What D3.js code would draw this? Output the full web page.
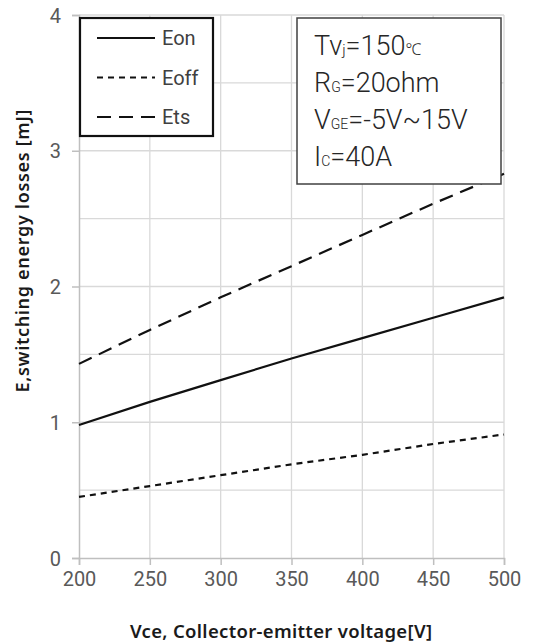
<!DOCTYPE html>
<html>
<head>
<meta charset="utf-8">
<script src="https://cdn.jsdelivr.net/npm/d3@7"></script>
<style>
  body { margin: 0; background: #fff; }
  svg { display: block; font-family: Roboto, "Noto Sans", sans-serif; }
</style>
</head>
<body>
<div class="chart-container"></div>
<script>
// values
var vce = [200, 250, 300, 350, 400, 450, 500];
var eon = [0.98, 1.15, 1.31, 1.47, 1.62, 1.77, 1.92];
var eoff = [0.45, 0.53, 0.61, 0.69, 0.76, 0.84, 0.91];
var ets = [1.43, 1.68, 1.92, 2.15, 2.38, 2.61, 2.83];
var xTicks = [200, 250, 300, 350, 400, 450, 500];
var yTicks = [0, 1, 2, 3, 4];
var yGrid = [0.5, 1, 1.5, 2, 2.5, 3, 3.5, 4];
var seriesNames = ["Eon", "Eoff", "Ets"];
var conditions = [
    [["Tv", 27], ["j", 15], ["=150", 27], ["℃", 16]],
    [["R", 27], ["G", 14], ["=20ohm", 27]],
    [["V", 27], ["GE", 14], ["=-5V~15V", 27]],
    [["I", 27], ["C", 14], ["=40A", 27]]
];

draw();

function draw() {
    var drawWidth = 533, drawHeight = 644;
    var margin = { top: 15, right: 29, bottom: 86, left: 79 };
    var width = drawWidth - margin.left - margin.right;
    var height = drawHeight - margin.top - margin.bottom;

    var svg = d3.select(".chart-container").append("svg")
        .attr("width", drawWidth)
        .attr("height", drawHeight);

    var g = svg.append("g")
        .attr("transform", "translate(" + margin.left + "," + margin.top + ")");

    var x = d3.scaleLinear().domain([200, 500]).range([0, width]);
    var y = d3.scaleLinear().domain([0, 4]).range([height, 0]);

    // grid
    g.selectAll(".vgrid").data(xTicks.slice(1)).enter().append("line")
        .attr("x1", d => x(d)).attr("x2", d => x(d))
        .attr("y1", 0).attr("y2", height)
        .attr("stroke", "#d9d9d9").attr("stroke-width", 1.3);
    g.selectAll(".hgrid").data(yGrid).enter().append("line")
        .attr("x1", 0).attr("x2", width)
        .attr("y1", d => y(d)).attr("y2", d => y(d))
        .attr("stroke", "#d9d9d9").attr("stroke-width", 1.3);

    // axes
    var xAxis = g.append("g")
        .attr("transform", "translate(0," + height + ")")
        .call(d3.axisBottom(x).tickValues(xTicks).tickSize(7).tickPadding(6));
    var yAxis = g.append("g")
        .call(d3.axisLeft(y).tickValues(yTicks).tickFormat(d3.format("d")).tickSize(7).tickPadding(11));
    [xAxis, yAxis].forEach(function (a) {
        a.select(".domain").attr("stroke", "#bfbfbf").attr("stroke-width", 1.5);
        a.selectAll(".tick line").attr("stroke", "#bfbfbf").attr("stroke-width", 1.5);
        a.selectAll(".tick text")
            .attr("fill", "#595959")
            .style("font-size", "20px")
            .style("font-family", "Roboto, sans-serif");
    });
    xAxis.selectAll(".tick text").attr("dy", "0.75em");
    yAxis.selectAll(".tick text").attr("dy", "0.35em");

    // lines
    var styles = [
        { data: eon, dash: null },
        { data: eoff, dash: "6,5" },
        { data: ets, dash: "14,8" }
    ];
    var line = d3.line()
        .x((d, i) => x(vce[i]))
        .y(d => y(d));
    styles.forEach(function (s) {
        g.append("path")
            .datum(s.data)
            .attr("d", line)
            .attr("fill", "none")
            .attr("stroke", "#111")
            .attr("stroke-width", 2.2)
            .attr("stroke-dasharray", s.dash);
    });

    // legend box
    var lg = svg.append("g").attr("transform", "translate(80,18)");
    lg.append("rect")
        .attr("width", 133).attr("height", 118)
        .attr("fill", "#fff").attr("stroke", "#111").attr("stroke-width", 2.2);
    seriesNames.forEach(function (name, i) {
        var yy = 20 + i * 39.5;
        lg.append("line")
            .attr("x1", 17).attr("x2", 75)
            .attr("y1", yy).attr("y2", yy)
            .attr("stroke", "#111").attr("stroke-width", 2)
            .attr("stroke-dasharray", styles[i].dash);
        lg.append("text")
            .attr("x", 82).attr("y", yy + 7)
            .attr("fill", "#404040")
            .style("font-size", "20px")
            .text(name);
    });

    // condition box
    var cb = svg.append("g").attr("transform", "translate(297,18)");
    cb.append("rect")
        .attr("width", 204).attr("height", 166)
        .attr("fill", "#fff").attr("stroke", "#404040").attr("stroke-width", 1.5);
    conditions.forEach(function (parts, i) {
        var t = cb.append("text")
            .attr("x", 17).attr("y", 37 + i * 37)
            .attr("fill", "#262626")
            .style("font-weight", 300);
        parts.forEach(function (p) {
            t.append("tspan").style("font-size", p[1] + "px").text(p[0]);
        });
    });

    // axis titles
    svg.append("text")
        .attr("transform", "translate(29,251) rotate(-90)")
        .attr("text-anchor", "middle")
        .attr("fill", "#1a1a1a")
        .attr("textLength", 283)
        .attr("lengthAdjust", "spacing")
        .style("font-family", "'Noto Sans', sans-serif")
        .style("font-size", "18px")
        .style("font-weight", 600)
        .text("E,switching energy losses [mJ]");
    svg.append("text")
        .attr("x", 281).attr("y", 638)
        .attr("text-anchor", "middle")
        .attr("fill", "#1a1a1a")
        .attr("textLength", 302)
        .attr("lengthAdjust", "spacing")
        .style("font-family", "'Noto Sans', sans-serif")
        .style("font-size", "18.5px")
        .style("font-weight", 600)
        .text("Vce, Collector-emitter voltage[V]");
}
</script>
</body>
</html>
